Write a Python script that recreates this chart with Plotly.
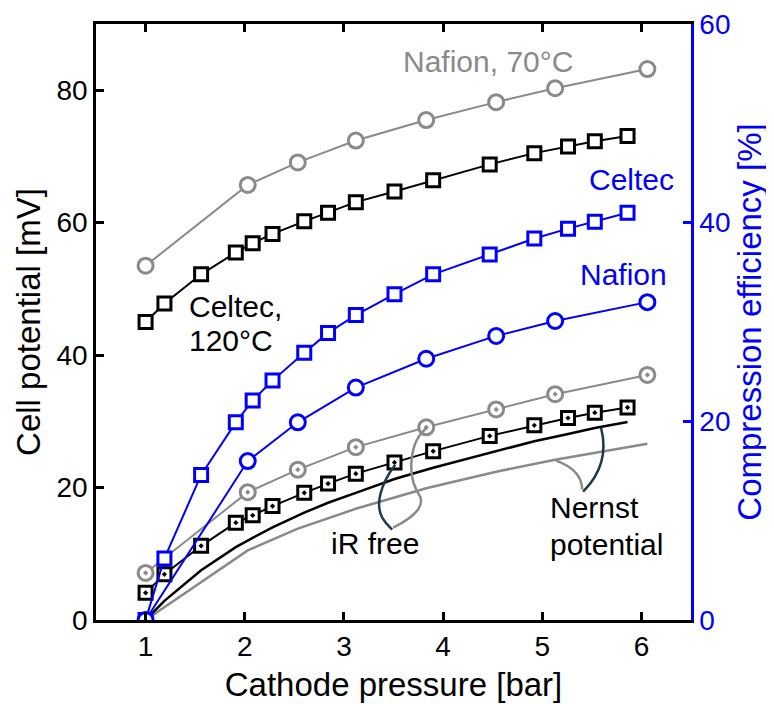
import plotly.graph_objects as go

# ---------------- data ----------------
p_celtec = [1.0, 1.19, 1.56, 1.91, 2.08, 2.28, 2.60, 2.84, 3.12, 3.51, 3.90, 4.47, 4.92, 5.26, 5.53, 5.86]
v_celtec = [45.0, 47.8, 52.2, 55.5, 56.9, 58.3, 60.2, 61.5, 63.1, 64.7, 66.4, 68.8, 70.5, 71.5, 72.3, 73.1]
v_celtec_irfree = [4.1, 6.9, 11.2, 14.7, 15.8, 17.2, 19.2, 20.6, 22.1, 23.8, 25.5, 27.8, 29.4, 30.5, 31.3, 32.1]
v_celtec_nernst = [0.0, 2.9, 7.5, 11.0, 12.4, 14.0, 16.2, 17.7, 19.2, 21.3, 23.0, 25.3, 27.0, 28.1, 29.0, 29.9]
eff_celtec = [0.0, 6.2, 14.6, 19.9, 22.1, 24.1, 26.9, 28.9, 30.7, 32.8, 34.8, 36.8, 38.4, 39.4, 40.1, 41.0]

p_nafion = [1.0, 2.03, 2.535, 3.12, 3.83, 4.535, 5.13, 6.06]
v_nafion = [53.5, 65.7, 69.1, 72.4, 75.5, 78.2, 80.3, 83.2]
v_nafion_irfree = [7.1, 19.3, 22.7, 26.1, 29.1, 31.8, 34.1, 37.0]
v_nafion_nernst = [0.0, 10.5, 13.8, 16.8, 19.9, 22.4, 24.2, 26.6]
eff_nafion = [0.0, 16.0, 19.9, 23.4, 26.3, 28.6, 30.1, 32.0]

x_ticks = [1, 2, 3, 4, 5, 6]
y_ticks = [0, 20, 40, 60, 80]
y2_ticks = [0, 20, 40, 60]

# ---------------- style ----------------
FONT = "Liberation Sans, Arial, sans-serif"
GREY = "#8a8a8a"
BLUE = "#0000ff"
BLACK = "#000000"
DARK = "#1d3a48"

fig = go.Figure()

def add(x, y, color, symbol=None, size=13, lw=2, yaxis="y", mlw=3):
    mode = "lines+markers" if symbol else "lines"
    kw = dict(x=x, y=y, mode=mode, yaxis=yaxis, showlegend=False,
              line=dict(color=color, width=lw), hoverinfo="skip")
    if symbol:
        kw["marker"] = dict(symbol=symbol, size=size, color="white",
                            line=dict(color=color, width=mlw))
    fig.add_trace(go.Scatter(**kw))

# Nernst lines
add(p_nafion, v_nafion_nernst, GREY, lw=2.5)
add(p_celtec, v_celtec_nernst, BLACK, lw=2.5)
# cell potentials
add(p_nafion, v_nafion, GREY, "circle", size=15)
add(p_nafion, v_nafion_irfree, GREY, "circle-dot", size=15)
add(p_celtec, v_celtec, BLACK, "square", size=13)
add(p_celtec, v_celtec_irfree, BLACK, "square-dot", size=13)
# efficiencies (right axis)
add(p_celtec, eff_celtec, BLUE, "square", size=13, yaxis="y2")
add(p_nafion, eff_nafion, BLUE, "circle", size=15, yaxis="y2")

# ---------------- brackets (decorations) ----------------
shapes = [
    dict(type="path", xref="x", yref="y",
         path="M 3.840,29.04 C 3.669,27.23 3.618,21.95 3.769,18.63 C 3.820,16.67 3.618,14.86 3.497,13.96",
         line=dict(color=GREY, width=2.5)),
    dict(type="path", xref="x", yref="y",
         path="M 3.517,23.46 C 3.366,20.45 3.316,17.43 3.386,15.46 C 3.427,14.41 3.467,13.96 3.487,13.66",
         line=dict(color=DARK, width=2.5)),
    dict(type="path", xref="x", yref="y",
         path="M 5.140,24.06 C 5.331,23.01 5.402,21.50 5.402,19.69",
         line=dict(color=GREY, width=2.5)),
    dict(type="path", xref="x", yref="y",
         path="M 5.593,29.04 C 5.663,24.97 5.583,21.95 5.412,19.39",
         line=dict(color=DARK, width=2.5)),
]

def ann(text, x, y, color=BLACK, xanchor="center"):
    return dict(text=text, x=x, y=y, xref="x", yref="y", showarrow=False,
                xanchor=xanchor, yanchor="middle",
                font=dict(family=FONT, size=30, color=color))

annotations = [
    ann("Nafion, 70°C", 4.455, 84.3, GREY),
    ann("Celtec,", 1.422, 47.3, BLACK, "left"),
    ann("120°C", 1.422, 42.2, BLACK, "left"),
    ann("Celtec", 5.90, 66.5, BLUE),
    ann("Nafion", 5.82, 52.1, BLUE),
    ann("iR free", 3.316, 11.5, BLACK),
    ann("Nernst", 5.059, 17.0, BLACK, "left"),
    ann("potential", 5.059, 11.4, BLACK, "left"),
]

axis_common = dict(showgrid=False, zeroline=False, showline=True, linewidth=2.5,
                   ticks="inside", ticklen=8, tickwidth=2.5)

# page body adds an 8px margin, so the figure is sized/offset to compensate
fig.update_layout(
    width=766, height=696,
    margin=dict(l=87.5, r=83, t=16, b=83.5, autoexpand=False),
    paper_bgcolor="white", plot_bgcolor="white",
    font=dict(family=FONT, color=BLACK),
    shapes=shapes, annotations=annotations,
    xaxis=dict(range=[0.5, 6.5], tickvals=x_ticks, mirror="ticks",
               linecolor=BLACK, tickcolor=BLACK,
               tickfont=dict(family=FONT, size=28, color=BLACK),
               title=dict(text="Cathode pressure [bar]", standoff=12,
                          font=dict(family=FONT, size=33, color=BLACK)),
               **axis_common),
    yaxis=dict(range=[0, 90], tickvals=y_ticks, linecolor=BLACK, tickcolor=BLACK,
               tickfont=dict(family=FONT, size=28, color=BLACK),
               title=dict(text="Cell potential [mV]", standoff=6,
                          font=dict(family=FONT, size=33, color=BLACK)),
               **axis_common),
    yaxis2=dict(range=[0, 60], tickvals=y2_ticks, overlaying="y", side="right",
                linecolor=BLUE, tickcolor=BLUE,
                tickfont=dict(family=FONT, size=28, color=BLUE),
                title=dict(text="Compression efficiency [%]", standoff=6,
                           font=dict(family=FONT, size=33, color=BLUE)),
                **axis_common),
)

fig.write_html("out.html")
